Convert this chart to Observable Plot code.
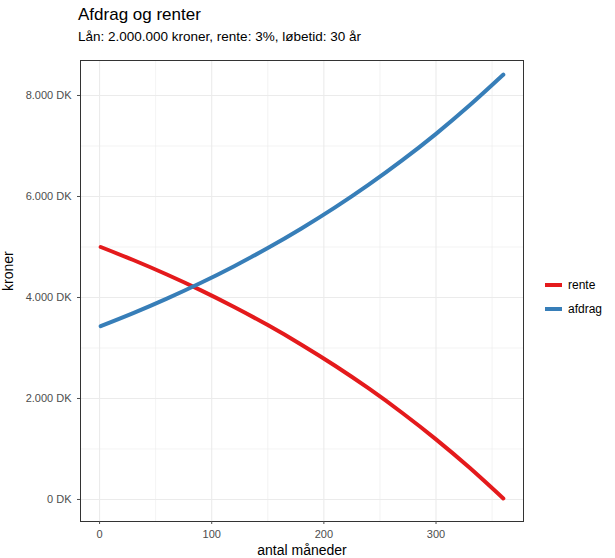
<!DOCTYPE html>
<html><head><meta charset="utf-8">
<script src="https://cdn.jsdelivr.net/npm/d3@7"></script>
<script src="https://cdn.jsdelivr.net/npm/@observablehq/plot@0.6"></script>
<style>
body{margin:0;font-family:"Liberation Sans",Arial,sans-serif;background:#fff}
#wrap{position:relative;width:615px;height:558px}
.t{position:absolute;left:78px;top:5px;font-size:17px;color:#000}
.s{position:absolute;left:78px;top:29px;font-size:13.5px;color:#000}
.leg{position:absolute;left:545px;font-size:12px;display:flex;align-items:center}
.leg span{display:inline-block;width:17px;height:4px;margin-right:6px}
#plot{position:absolute;left:0;top:50px}
</style></head><body>
<div id="wrap">
<div class="t">Afdrag og renter</div>
<div class="s">Lån: 2.000.000 kroner, rente: 3%, løbetid: 30 år</div>
<div id="plot"></div>
<div class="leg" style="top:278px"><span style="background:#E41A1C"></span>rente</div>
<div class="leg" style="top:302px"><span style="background:#377EB8"></span>afdrag</div>
</div>
<script>
const months = [1,30,60,90,120,150,180,210,240,270,300,330,360];
const afdrag = [3432,3690,3977,4286,4620,4979,5367,5784,6234,6719,7241,7805,8412];
const rente = [5000,4742,4455,4146,3812,3453,3065,2648,2198,1713,1191,627,20];
const series = ["rente","afdrag"];
const colors = ["#E41A1C","#377EB8"];
const data = [];
months.forEach((m,i)=>{data.push({m,v:rente[i],s:"rente"});data.push({m,v:afdrag[i],s:"afdrag"});});
const fmt = d => d3.format(",")(d).replace(/,/g,".")+" DK";
const chart = Plot.plot({
  width:615,height:508,marginLeft:80,marginRight:92,marginTop:10,marginBottom:37,
  style:{fontFamily:"Liberation Sans, Arial, sans-serif",fontSize:"11px",color:"#4d4d4d"},
  x:{domain:[-17,378],label:null,ticks:[0,100,200,300],tickSize:3},
  y:{domain:[-436,8693],label:null,ticks:[0,2000,4000,6000,8000],tickFormat:fmt,tickSize:3},
  color:{domain:series,range:colors},
  marks:[
    Plot.gridX([50,150,250,350],{stroke:"#ebebeb",strokeOpacity:1,strokeWidth:0.6}),
    Plot.gridY([1000,3000,5000,7000],{stroke:"#ebebeb",strokeOpacity:1,strokeWidth:0.6}),
    Plot.gridX([0,100,200,300],{stroke:"#ebebeb",strokeOpacity:1,strokeWidth:1.1}),
    Plot.gridY([0,2000,4000,6000,8000],{stroke:"#ebebeb",strokeOpacity:1,strokeWidth:1.1}),
    Plot.frame({stroke:"#333",strokeWidth:1}),
    Plot.line(data,{x:"m",y:"v",z:"s",stroke:"s",strokeWidth:4,curve:"natural"}),
    Plot.axisX({ticks:[0,100,200,300],tickSize:3,fill:"#4d4d4d",label:null}),
    Plot.axisY({ticks:[0,2000,4000,6000,8000],tickFormat:fmt,tickSize:3,fill:"#4d4d4d",label:null}),
    Plot.text(["antal måneder"],{frameAnchor:"bottom",dy:33,fontSize:14,fill:"#000"}),
    Plot.text(["kroner"],{frameAnchor:"left",dx:-72,rotate:-90,fontSize:14,fill:"#000"})
  ]
});
document.getElementById("plot").appendChild(chart);
</script>
</body></html>
